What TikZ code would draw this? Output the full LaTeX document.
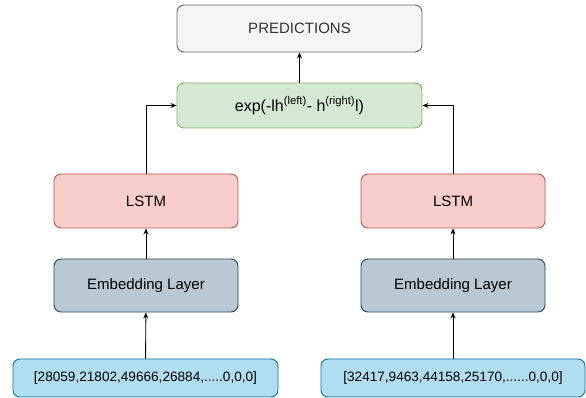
\documentclass[tikz,border=0pt]{standalone}
\usepackage{fontspec}
\setmainfont{Liberation Sans}
\usetikzlibrary{arrows.meta}
\definecolor{predfill}{HTML}{F5F5F5}
\definecolor{preddraw}{HTML}{666666}
\definecolor{predtext}{HTML}{333333}
\definecolor{simfill}{HTML}{D5E8D4}
\definecolor{simdraw}{HTML}{82B366}
\definecolor{lstmfill}{HTML}{F8CECC}
\definecolor{lstmdraw}{HTML}{B85450}
\definecolor{embfill}{HTML}{BAC8D3}
\definecolor{embdraw}{HTML}{23445D}
\definecolor{infill}{HTML}{B1DDF0}
\definecolor{indraw}{HTML}{10739E}
\begin{document}
\begin{tikzpicture}[x=1pt,y=1pt,
   box/.style={rectangle,rounded corners=7pt,line width=0.9pt,inner sep=0pt,
     font=\fontsize{15}{17}\selectfont},
   predbox/.style={box,fill=predfill,draw=preddraw,text=predtext,
     minimum width=245pt,minimum height=47pt,font=\fontsize{15}{17}\selectfont},
   simbox/.style={box,fill=simfill,draw=simdraw,minimum width=245pt,minimum height=45pt,
     font=\fontsize{16}{18}\selectfont},
   lstmbox/.style={box,fill=lstmfill,draw=lstmdraw,minimum width=184pt,minimum height=54pt},
   embbox/.style={box,fill=embfill,draw=embdraw,minimum width=184pt,minimum height=53pt},
   inbox/.style={box,fill=infill,draw=indraw,minimum height=38pt,
     font=\fontsize{13.6}{15}\selectfont},
   arr/.style={line width=0.9pt,-{Stealth[length=6pt,width=5pt]}}]
   \useasboundingbox (0,0) rectangle (586,398);
   % top part
   \node [predbox] (pred) at (299.5,369.5) {PREDICTIONS};
   \node [simbox] (sim) at (299.5,292.5)
     {exp(-lh\textsuperscript{(left)}- h\textsuperscript{(right)}l)};
   % left branch
   \node [lstmbox] (lstmL) at (146,197) {LSTM};
   \node [embbox] (embL) at (146,112.5) {Embedding Layer};
   \node [inbox,minimum width=265pt] (inL) at (145.5,20)
     {[28059,21802,49666,26884,.....0,0,0]};
   % right branch
   \node [lstmbox] (lstmR) at (453,197) {LSTM};
   \node [embbox] (embR) at (453,112.5) {Embedding Layer};
   \node [inbox,minimum width=264pt] (inR) at (453,20)
     {[32417,9463,44158,25170,......0,0,0]};
   % connectors
   \draw [arr] (inL) -- (embL);
   \draw [arr] (embL) -- (lstmL);
   \draw [arr] (lstmL.north) |- (sim.west);
   \draw [arr] (inR) -- (embR);
   \draw [arr] (embR) -- (lstmR);
   \draw [arr] (lstmR.north) |- (sim.east);
   \draw [arr] (sim) -- (pred);
\end{tikzpicture}
\end{document}
